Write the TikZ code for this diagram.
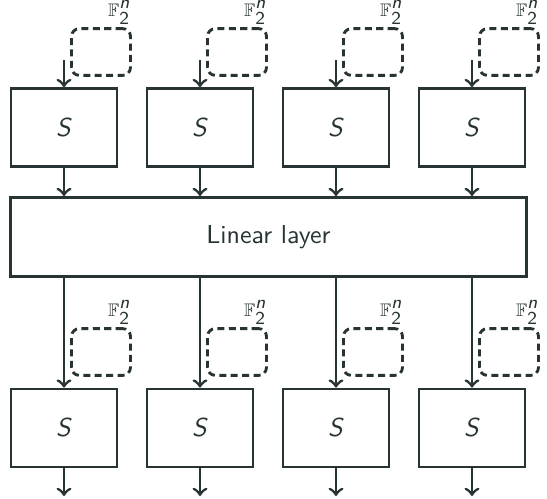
\documentclass[tikz,border=0pt]{standalone}
\usepackage{amssymb}
\definecolor{ink}{RGB}{40,52,52}
\tikzset{
    sbox/.style={draw=ink, line width=1.1pt, minimum width=40.8pt, minimum height=30pt, inner sep=0pt, text=ink},
    keybox/.style={draw=ink, line width=1.1pt, dash pattern=on 2.7pt off 1.7pt, rounded corners=3pt, minimum width=22.7pt, minimum height=18pt, inner sep=0pt},
    keylabel/.style={anchor=south east, inner sep=0.3pt, text=ink, font=\scriptsize},
    wire/.style={draw=ink, line width=1.1pt, ->},
}
\newcommand{\keyspace}{$\mathbb{F}_{\textsf{2}}^{\textsf{\itshape n}}$}
\begin{document}
\begin{tikzpicture}[x=0.385pt, y=-0.385pt]
    \useasboundingbox (0, 0) rectangle (547, 499);

    \node[sbox, minimum width=198.7pt, minimum height=30.4pt] (lin) at (268.5, 237) {\textsf{Linear layer}};

    \foreach \i in {0,...,3} {
        \pgfmathsetmacro{\x}{64 + 136*\i}
        % first round: key, S-box, into the linear layer
        \node[keybox] (key\i) at (\x + 37, 52) {};
        \node[keylabel] (f\i) at ([yshift=0.5pt]key\i.north east) {\keyspace};
        \coordinate (in\i) at (\x, 60);
        \node[sbox] (s\i) at (\x, 127.5) {\textsf{\itshape S}};
        \draw[wire] (in\i) -- (s\i.north);
        \draw[wire] (s\i.south) -- (s\i.south |- lin.north);
        % second round
        \node[keybox] (lkey\i) at (\x + 37, 352) {};
        \node[keylabel] (lf\i) at ([yshift=0.5pt]lkey\i.north east) {\keyspace};
        \node[sbox] (t\i) at (\x, 428) {\textsf{\itshape S}};
        \coordinate (out\i) at (\x, 496);
        \draw[wire] (t\i.north |- lin.south) -- (t\i.north);
        \draw[wire] (t\i.south) -- (out\i);
    }
\end{tikzpicture}
\end{document}
